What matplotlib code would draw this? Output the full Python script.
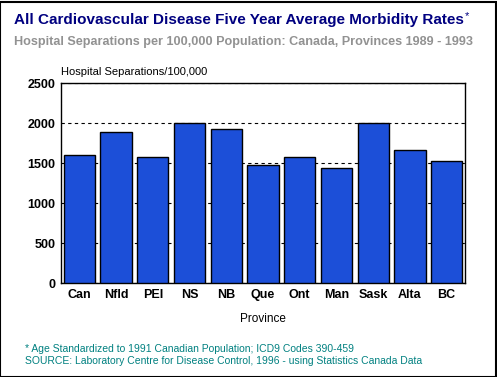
import matplotlib.pyplot as plt
from matplotlib.patches import Rectangle

# Data
provinces = ["Can", "Nfld", "PEI", "NS", "NB", "Que", "Ont", "Man", "Sask", "Alta", "BC"]
rates = [1595, 1885, 1570, 2000, 1930, 1475, 1580, 1435, 2000, 1660, 1520]
y_ticks = [0, 500, 1000, 1500, 2000, 2500]

W, H = 497, 377
fig = plt.figure(figsize=(W / 100, H / 100), dpi=100)
plt.rcParams['font.family'] = ['Liberation Sans', 'DejaVu Sans']

# black frame round the whole picture
fig.patches.append(Rectangle((0.001, 0.001), 0.996, 0.995, transform=fig.transFigure,
                             fill=False, edgecolor='black', linewidth=1.5))

ax = fig.add_axes([61 / W, (H - 283) / H, 404 / W, 200 / H])
x = range(len(provinces))
ax.bar(x, rates, width=0.85, color='#1c4fd8', edgecolor='black', linewidth=1, zorder=3)
ax.set_xlim(-0.5, len(provinces) - 0.5)
ax.set_ylim(0, 2500)
ax.set_yticks(y_ticks)
ax.set_yticklabels([str(v) for v in y_ticks], fontweight='bold', fontsize=9)
ax.set_xticks(list(x))
ax.set_xticklabels(provinces, fontweight='bold', fontsize=9)
ax.tick_params(axis='both', length=0, pad=4)
ax.yaxis.grid(True, linestyle=(0, (3, 3)), color='black', linewidth=0.8, zorder=0)
for s in ax.spines.values():
    s.set_linewidth(1)

t = fig.text(14 / W, 1 - 20 / H, "All Cardiovascular Disease Five Year Average Morbidity Rates",
             color='#000080', fontsize=11, fontweight='bold', va='center')
fig.canvas.draw()
bb = t.get_window_extent()
fig.text(bb.x1 / W + 0.002, 1 - 16 / H, "*", color='#000080', fontsize=8, va='center')
fig.text(14 / W, 1 - 42 / H, "Hospital Separations per 100,000 Population: Canada, Provinces 1989 - 1993",
         color='#929292', fontsize=9.1, fontweight='bold', va='center')
fig.text(61 / W, 1 - 72 / H, "Hospital Separations/100,000", fontsize=8, va='center')
fig.text(263 / W, 1 - 319 / H, "Province", fontsize=8.5, ha='center', va='center')
fig.text(25 / W, 1 - 349 / H, "* Age Standardized to 1991 Canadian Population; ICD9 Codes 390-459",
         color='#008080', fontsize=7.5, va='center')
fig.text(25 / W, 1 - 361 / H, "SOURCE: Laboratory Centre for Disease Control, 1996 - using Statistics Canada Data",
         color='#008080', fontsize=7.5, va='center')

fig.savefig("out.png", dpi=100)
